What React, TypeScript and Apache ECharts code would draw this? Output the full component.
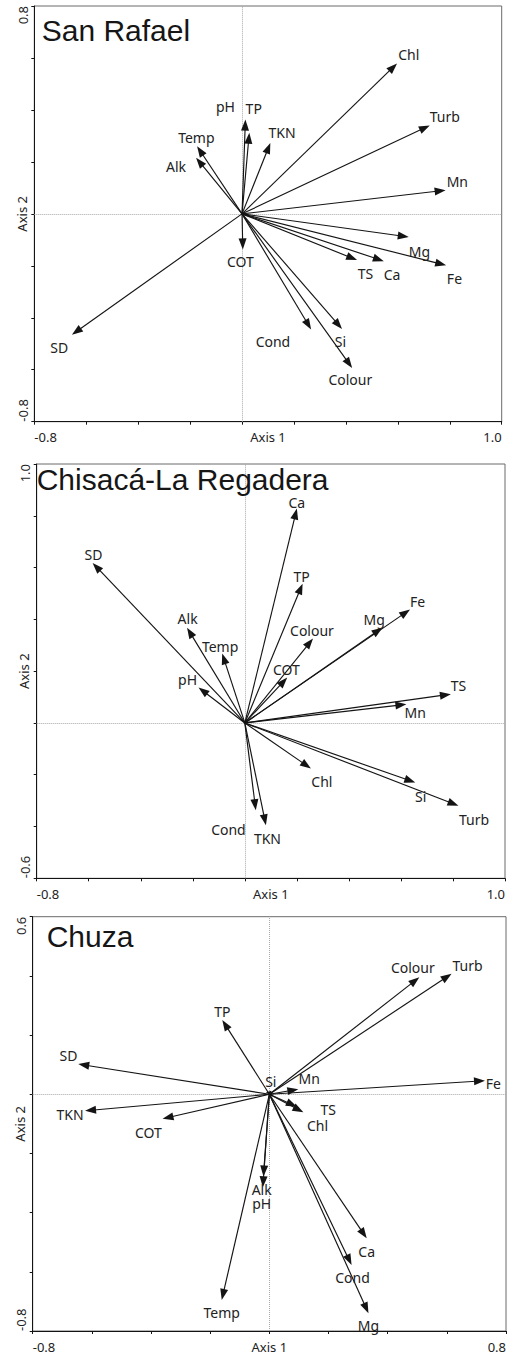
import React, { useEffect, useRef } from "react";
import * as echarts from "echarts";

// ---- San Rafael ----
const sanRafaelVars = ["Chl", "Turb", "Mn", "Mg", "Fe", "Ca", "TS", "Si", "Colour", "Cond", "COT", "SD", "Alk", "Temp", "pH", "TP", "TKN"];
const sanRafaelAxis1 = [0.597, 0.723, 0.784, 0.642, 0.786, 0.546, 0.443, 0.385, 0.424, 0.266, 0.003, -0.655, -0.177, -0.173, 0.013, 0.028, 0.109];
const sanRafaelAxis2 = [0.579, 0.34, 0.091, -0.089, -0.198, -0.182, -0.178, -0.443, -0.593, -0.445, -0.137, -0.465, 0.216, 0.26, 0.363, 0.312, 0.273];
const sanRafaelLabel1 = [0.642, 0.781, 0.829, 0.683, 0.818, 0.578, 0.475, 0.379, 0.417, 0.119, -0.006, -0.704, -0.254, -0.176, -0.064, 0.045, 0.154];
const sanRafaelLabel2 = [0.613, 0.376, 0.126, -0.144, -0.249, -0.234, -0.23, -0.49, -0.638, -0.493, -0.182, -0.513, 0.183, 0.295, 0.414, 0.404, 0.312];

// ---- Chisacá-La Regadera ----
const chisacaVars = ["Ca", "SD", "TP", "Fe", "Mg", "Colour", "COT", "Alk", "Temp", "pH", "TS", "Mn", "Chl", "Si", "Turb", "Cond", "TKN"];
const chisacaAxis1 = [0.2, -0.585, 0.222, 0.635, 0.529, 0.262, 0.163, -0.222, -0.087, -0.178, 0.792, 0.621, 0.254, 0.655, 0.821, 0.042, 0.081];
const chisacaAxis2 = [0.828, 0.618, 0.538, 0.438, 0.368, 0.326, 0.175, 0.368, 0.268, 0.137, 0.111, 0.072, -0.176, -0.23, -0.32, -0.337, -0.395];
const chisacaLabel1 = [0.2, -0.582, 0.218, 0.664, 0.497, 0.258, 0.16, -0.22, -0.095, -0.22, 0.821, 0.655, 0.296, 0.676, 0.881, -0.063, 0.087];
const chisacaLabel2 = [0.853, 0.651, 0.566, 0.47, 0.4, 0.358, 0.206, 0.403, 0.296, 0.169, 0.143, 0.039, -0.228, -0.286, -0.373, -0.412, -0.447];

// ---- Chuza ----
const chuzaVars = ["Colour", "Turb", "TP", "SD", "Fe", "Mn", "Si", "TS", "Chl", "TKN", "COT", "Alk", "pH", "Temp", "Ca", "Cond", "Mg"];
const chuzaAxis1 = [0.507, 0.616, -0.159, -0.646, 0.729, 0.098, 0.006, 0.115, 0.093, -0.623, -0.361, -0.02, -0.022, -0.161, 0.329, 0.278, 0.335];
const chuzaAxis2 = [0.395, 0.407, 0.251, 0.102, 0.046, 0.017, 0.012, -0.061, -0.042, -0.056, -0.083, -0.278, -0.314, -0.695, -0.487, -0.577, -0.74];
const chuzaLabel1 = [0.485, 0.67, -0.159, -0.679, 0.757, 0.135, 0.005, 0.199, 0.163, -0.674, -0.409, -0.026, -0.026, -0.161, 0.329, 0.281, 0.335];
const chuzaLabel2 = [0.429, 0.434, 0.279, 0.13, 0.037, 0.052, 0.043, -0.053, -0.107, -0.07, -0.128, -0.321, -0.37, -0.738, -0.532, -0.619, -0.783];

// Axis ranges per panel: [xMin, xMax, yMin, yMax]
const sanRafaelRange = [-0.8, 1.0, -0.8, 0.8];
const chisacaRange = [-0.8, 1.0, -0.6, 1.0];
const chuzaRange = [-0.8, 0.8, -0.8, 0.6];

const LABEL_FONT = '"Noto Sans", "Open Sans", "DejaVu Sans", sans-serif';
const TITLE_FONT = '"Liberation Sans", Arial, Helvetica, sans-serif';
const INK = "#141414";
const HEAD_LEN = 11;
const HEAD_WIDTH = 8;

type Panel = {
  title: string;
  titleLeft: number;
  titleTop: number;
  grid: { left: number; top: number; width: number; height: number };
  vars: string[];
  axis1: number[];
  axis2: number[];
  label1: number[];
  label2: number[];
  range: number[];
};

const panels: Panel[] = [
  {
    title: "San Rafael",
    titleLeft: 41.7,
    titleTop: 15.3,
    grid: { left: 34.3, top: 6, width: 467.4, height: 415.7 },
    vars: sanRafaelVars,
    axis1: sanRafaelAxis1,
    axis2: sanRafaelAxis2,
    label1: sanRafaelLabel1,
    label2: sanRafaelLabel2,
    range: sanRafaelRange,
  },
  {
    title: "Chisacá-La Regadera",
    titleLeft: 36.7,
    titleTop: 464.6,
    grid: { left: 36.7, top: 464, width: 468.3, height: 414.3 },
    vars: chisacaVars,
    axis1: chisacaAxis1,
    axis2: chisacaAxis2,
    label1: chisacaLabel1,
    label2: chisacaLabel2,
    range: chisacaRange,
  },
  {
    title: "Chuza",
    titleLeft: 46.7,
    titleTop: 921.3,
    grid: { left: 32.7, top: 916.7, width: 473.3, height: 414.3 },
    vars: chuzaVars,
    axis1: chuzaAxis1,
    axis2: chuzaAxis2,
    label1: chuzaLabel1,
    label2: chuzaLabel2,
    range: chuzaRange,
  },
];

// Only the two extreme ticks carry a number
const edgeOnly = (min: number, max: number) => (v: number) =>
  Math.abs(v - min) < 1e-6 || Math.abs(v - max) < 1e-6 ? v.toFixed(1) : "";

const tickLabelStyle = {
  color: "#222",
  fontSize: 13,
  fontFamily: LABEL_FONT,
};

// snap a coordinate onto the pixel grid so a 1px dotted line stays crisp
const crisp = (v: number) => Math.round(v) + 0.5;

function buildOption() {
  const grids: any[] = [];
  const xAxes: any[] = [];
  const yAxes: any[] = [];
  const series: any[] = [];
  const titles: any[] = [];

  panels.forEach((p, i) => {
    const [xMin, xMax, yMin, yMax] = p.range;
    grids.push({
      ...p.grid,
      show: true,
      borderColor: "#6a6a6a",
      borderWidth: 1,
      containLabel: false,
      outerBoundsMode: "none",
    });
    titles.push({
      text: p.title,
      left: p.titleLeft,
      top: p.titleTop,
      padding: 0,
      textStyle: {
        fontFamily: TITLE_FONT,
        fontSize: 30,
        fontWeight: "normal",
        color: "#161616",
        lineHeight: 30,
      },
    });
    xAxes.push({
      type: "value",
      gridIndex: i,
      min: xMin,
      max: xMax,
      interval: 0.2,
      position: "bottom",
      axisLine: { show: true, onZero: false, lineStyle: { color: INK, width: 1 } },
      axisTick: { show: true, inside: false, length: 3, lineStyle: { color: INK, width: 1 } },
      axisLabel: {
        ...tickLabelStyle,
        margin: 9,
        formatter: edgeOnly(xMin, xMax),
        alignMinLabel: "left",
        alignMaxLabel: "right",
        showMinLabel: true,
        showMaxLabel: true,
      },
      splitLine: { show: false },
      name: "Axis 1",
      nameLocation: "middle",
      nameGap: 9,
      nameMoveOverlap: false,
      nameTextStyle: { ...tickLabelStyle },
    });
    yAxes.push({
      type: "value",
      gridIndex: i,
      min: yMin,
      max: yMax,
      interval: 0.2,
      position: "left",
      axisLine: { show: true, onZero: false, lineStyle: { color: INK, width: 1 } },
      axisTick: { show: true, inside: false, length: 3, lineStyle: { color: INK, width: 1 } },
      axisLabel: {
        ...tickLabelStyle,
        rotate: 90,
        margin: 5,
        formatter: edgeOnly(yMin, yMax),
        alignMinLabel: "left",
        alignMaxLabel: "right",
        showMinLabel: true,
        showMaxLabel: true,
      },
      splitLine: { show: false },
      name: "Axis 2",
      nameLocation: "middle",
      nameRotate: 90,
      nameGap: 6,
      nameMoveOverlap: false,
      nameTextStyle: { ...tickLabelStyle },
    });

    // dotted cross through the origin
    series.push({
      type: "custom",
      coordinateSystem: "cartesian2d",
      xAxisIndex: i,
      yAxisIndex: i,
      silent: true,
      z: 1,
      data: [[0, 0]],
      renderItem: (_params: any, api: any) => {
        const v0 = api.coord([0, yMin]);
        const v1 = api.coord([0, yMax]);
        const h0 = api.coord([xMin, 0]);
        const h1 = api.coord([xMax, 0]);
        const style = { stroke: "#a8a8a8", lineWidth: 1, lineDash: [1, 1] };
        const vx = crisp(v0[0]);
        const hy = crisp(h0[1]);
        return {
          type: "group",
          children: [
            { type: "line", shape: { x1: vx, y1: v0[1], x2: vx, y2: v1[1] }, style },
            { type: "line", shape: { x1: h0[0], y1: hy, x2: h1[0], y2: hy }, style },
          ],
        };
      },
    });

    // environmental vectors
    series.push({
      type: "custom",
      coordinateSystem: "cartesian2d",
      xAxisIndex: i,
      yAxisIndex: i,
      silent: true,
      clip: false,
      z: 3,
      data: p.axis1.map((x, k) => [x, p.axis2[k]]),
      renderItem: (_params: any, api: any) => {
        const o = api.coord([0, 0]);
        const t = api.coord([api.value(0), api.value(1)]);
        const dx = t[0] - o[0];
        const dy = t[1] - o[1];
        const len = Math.hypot(dx, dy) || 1;
        const ux = dx / len;
        const uy = dy / len;
        const hl = Math.min(HEAD_LEN, len);
        const hw = HEAD_WIDTH / 2;
        const bx = t[0] - ux * hl;
        const by = t[1] - uy * hl;
        return {
          type: "group",
          children: [
            {
              type: "line",
              shape: { x1: o[0], y1: o[1], x2: bx + ux * 2, y2: by + uy * 2 },
              style: { stroke: INK, lineWidth: 1.15 },
            },
            {
              type: "polygon",
              shape: {
                points: [
                  [t[0], t[1]],
                  [bx - uy * hw, by + ux * hw],
                  [bx + uy * hw, by - ux * hw],
                ],
              },
              style: { fill: INK },
            },
          ],
        };
      },
    });

    // vector names
    series.push({
      type: "custom",
      coordinateSystem: "cartesian2d",
      xAxisIndex: i,
      yAxisIndex: i,
      silent: true,
      clip: false,
      z: 4,
      data: p.label1.map((x, k) => [x, p.label2[k]]),
      renderItem: (params: any, api: any) => {
        const c = api.coord([api.value(0), api.value(1)]);
        return {
          type: "text",
          x: c[0],
          y: c[1],
          style: {
            text: p.vars[params.dataIndex],
            fill: "#222",
            fontSize: 14,
            fontFamily: LABEL_FONT,
            align: "center",
            verticalAlign: "middle",
          },
        };
      },
    });
  });

  return {
    animation: false,
    backgroundColor: "#ffffff",
    title: titles,
    grid: grids,
    xAxis: xAxes,
    yAxis: yAxes,
    series,
  };
}

export default function App() {
  const ref = useRef<HTMLDivElement>(null);

  useEffect(() => {
    if (!ref.current) return;
    const chart = echarts.init(ref.current, null, { renderer: "svg" });
    chart.setOption(buildOption() as any);
    return () => chart.dispose();
  }, []);

  return (
    <div
      ref={ref}
      style={{ position: "absolute", left: 0, top: 0, width: 509, height: 1356, background: "#fff" }}
    />
  );
}
